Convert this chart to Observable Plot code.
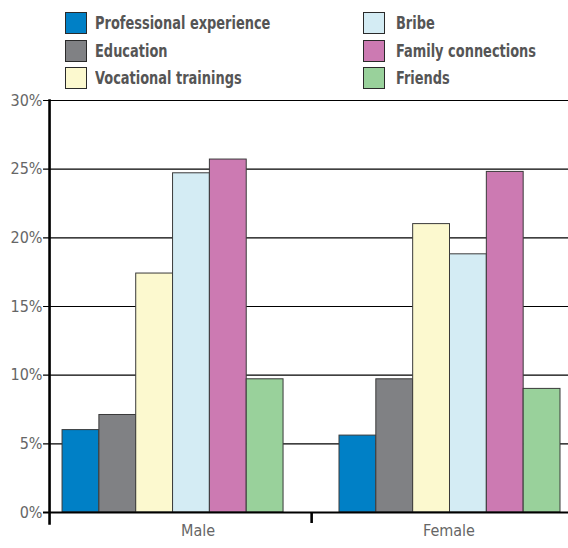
<!DOCTYPE html>
<html>
<head>
<meta charset="utf-8">
<script src="https://cdn.jsdelivr.net/npm/d3@7"></script>
<script src="https://cdn.jsdelivr.net/npm/@observablehq/plot@0.6"></script>
<style>
  html, body { margin: 0; padding: 0; background: #fff; }
  #wrap { width: 568px; height: 548px; position: relative; overflow: hidden; }
  #legend { position: relative; width: 568px; height: 90px; font-family: "DejaVu Sans Condensed", "Liberation Sans Narrow", sans-serif; font-weight: bold; font-size: 18px; color: #555; }
  .item { position: absolute; height: 22px; display: flex; align-items: center; }
  .sw { width: 22px; height: 22px; box-sizing: border-box; border: 1.3px solid #2a2a2a; flex: none; }
  .lab { position: absolute; white-space: nowrap; line-height: 22px; transform: scaleX(0.8); transform-origin: left center; }
  #chart svg { display: block; }
</style>
</head>
<body>
<div id="wrap">
  <div id="legend"></div>
  <div id="chart"></div>
</div>
<script>
const sexes = ["Male", "Female"];
const categories = ["Professional experience", "Education", "Vocational trainings", "Bribe", "Family connections", "Friends"];
const maleValues = [6.0, 7.1, 17.4, 24.7, 25.7, 9.7];
const femaleValues = [5.6, 9.7, 21.0, 18.8, 24.8, 9.0];
const colors = ["#0080c6", "#808184", "#fcf9cf", "#d4ecf4", "#cc7ab2", "#99d19b"];
const yTicks = [0, 5, 10, 15, 20, 25, 30];
// legend layout: first column holds first three categories, second column the rest
const legendColumns = [[0, 1, 2], [3, 4, 5]];

const data = sexes.flatMap((s, i) =>
  categories.map((c, j) => ({ sex: s, category: c, value: (i === 0 ? maleValues : femaleValues)[j] }))
);

// Legend (HTML)
const legend = document.getElementById("legend");
const colX = [65, 363];
const textX = [95, 396];
const rowY = [12, 39.5, 67];
legendColumns.forEach((col, ci) => {
  col.forEach((k, ri) => {
    const sw = document.createElement("div");
    sw.className = "item";
    sw.style.left = colX[ci] + "px";
    sw.style.top = rowY[ri] + "px";
    const box = document.createElement("div");
    box.className = "sw";
    box.style.background = colors[k];
    sw.appendChild(box);
    legend.appendChild(sw);
    const lab = document.createElement("div");
    lab.className = "lab";
    lab.style.left = textX[ci] + "px";
    lab.style.top = rowY[ri] + "px";
    lab.textContent = categories[k];
    legend.appendChild(lab);
  });
});

const font = '"DejaVu Sans Condensed", "Liberation Sans Narrow", sans-serif';
const inMale = { fx: () => sexes[0] };
const inFemale = { fx: () => sexes[1] };

const chart = Plot.plot({
  width: 568,
  height: 458,
  marginLeft: 49,
  marginRight: 0,
  marginTop: 10,
  marginBottom: 36,
  style: { fontFamily: font, fontSize: "16px", color: "#666", background: "#fff", overflow: "visible" },
  fx: { domain: sexes, paddingInner: 0.202, paddingOuter: 0.038, align: 0.62, round: false, axis: null, label: null },
  x: { domain: categories, padding: 0, round: false, axis: null, label: null },
  y: { domain: [0, 30], axis: null, label: null },
  color: { domain: categories, range: colors },
  marks: [
    Plot.ruleY(yTicks, { ...inMale, y: d => d, stroke: "#000", strokeWidth: 1.2, insetLeft: -19, insetRight: -28 }),
    Plot.ruleY(yTicks, { ...inFemale, y: d => d, stroke: "#000", strokeWidth: 1.2, insetLeft: -28, insetRight: -10 }),
    Plot.text(yTicks, { ...inMale, y: d => d, text: d => d + "%", frameAnchor: "left", textAnchor: "end", dx: -20, fill: "#666" }),
    Plot.barY(data, { fx: "sex", x: "category", y: "value", fill: "category", stroke: "#3a3a3a", strokeWidth: 1 }),
    Plot.ruleY([0], { ...inMale, stroke: "#000", strokeWidth: 2.2, insetLeft: -19, insetRight: -28 }),
    Plot.ruleY([0], { ...inFemale, stroke: "#000", strokeWidth: 2.2, insetLeft: -28, insetRight: -10 }),
    // left axis line
    Plot.frame({ ...inMale, anchor: "left", stroke: "#000", strokeWidth: 2.6, insetLeft: -13, insetBottom: -11 }),
    // divider tick between the groups
    Plot.ruleX([categories[5]], { ...inMale, x: d => d, y1: 0, y2: -0.8, dx: 46.5, stroke: "#000", strokeWidth: 2.6 }),
    Plot.text([sexes[0]], { fx: d => d, text: d => d, frameAnchor: "bottom", lineAnchor: "middle", dy: 18, dx: 25, fill: "#666" }),
    Plot.text([sexes[1]], { fx: d => d, text: d => d, frameAnchor: "bottom", lineAnchor: "middle", dy: 18, dx: -1, fill: "#666" })
  ]
});
document.getElementById("chart").appendChild(chart);
</script>
</body>
</html>
